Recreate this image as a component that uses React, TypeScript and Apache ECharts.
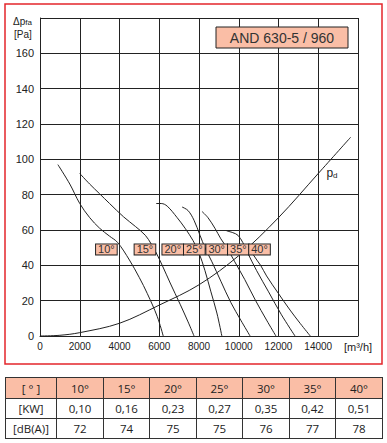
import React, { useEffect, useRef } from 'react';
import * as echarts from 'echarts';

// ---- data (x: airflow m³/h, y: Δpfa Pa) ----
const curve10: number[][] = [[900, 97], [1500, 86], [2000, 75], [2500, 67], [3000, 61], [3500, 56.5], [3900, 53], [4500, 43], [5000, 33], [5400, 24], [5900, 11], [6200, 0]];
const curve15: number[][] = [[2000, 92], [2500, 86], [3000, 80.5], [3500, 75], [4200, 67.5], [4800, 62], [5300, 57], [5600, 52], [5850, 47], [6150, 40], [6550, 30], [7050, 18], [7450, 8], [7750, 0]];
const curve20: number[][] = [[5840, 75], [6100, 75], [6400, 73.5], [6900, 67], [7300, 61], [7700, 54], [8000, 47], [8300, 37], [8600, 25], [8900, 13], [9150, 0]];
const curve25: number[][] = [[7150, 73], [7450, 71], [7750, 65.5], [8050, 57], [8300, 50], [8650, 42], [9100, 31], [9600, 19], [10100, 9], [10570, 0]];
const curve30: number[][] = [[8150, 70.5], [8450, 67], [8800, 61], [9100, 55], [9400, 50], [9800, 42], [10300, 32], [10850, 20], [11400, 9], [11870, 0]];
const curve35: number[][] = [[9390, 59.5], [9700, 58.5], [9960, 57], [10200, 53], [10450, 47], [10900, 37], [11500, 25], [12150, 12], [12830, 0]];
const curve40: number[][] = [[10600, 50], [10730, 46], [11100, 40], [11400, 34], [12000, 24], [12580, 14.7], [13100, 7], [13600, 0]];
const pdCurve: number[][] = [[0, 0], [1000, 0.4], [2000, 1.9], [4000, 7.2], [6000, 17.5], [8000, 29], [10000, 45.5], [12000, 67], [14000, 92], [15630, 112.5]];

const angleCurves = [curve10, curve15, curve20, curve25, curve30, curve35, curve40];
const angleLabels = ['10°', '15°', '20°', '25°', '30°', '35°', '40°'];
const labelX = [3340, 5280, 6680, 7765, 8890, 9980, 11045];
const labelY = 49;
const pdLabelPos = [14690, 92.5];

const tableHeader = ['[ ° ]', '10°', '15°', '20°', '25°', '30°', '35°', '40°'];
const kwRow = ['[KW]', '0,10', '0,16', '0,23', '0,27', '0,35', '0,42', '0,51'];
const dbRow = ['[dB(A)]', '72', '74', '75', '75', '76', '77', '78'];

const title = 'AND 630-5 / 960';
const SALMON = '#fabea6';
const INK = '#222';
const CLEAR = 'rgba(0,0,0,0)';

export default function App() {
  const ref = useRef<HTMLDivElement>(null);

  useEffect(() => {
    if (!ref.current) return;
    const chart = echarts.init(ref.current, undefined, { renderer: 'svg' });
    const lineSeries = angleCurves.map((d, i) => ({
      type: 'line',
      name: angleLabels[i],
      data: d,
      smooth: 0.35,
      showSymbol: false,
      symbol: 'none',
      lineStyle: { color: INK, width: 1 },
      z: 3,
    }));
    chart.setOption({
      animation: false,
      backgroundColor: '#fff',
      textStyle: { fontFamily: 'Liberation Sans, Arial, sans-serif' },
      grid: { left: 40, top: 18, width: 318, height: 318, containLabel: false },
      xAxis: {
        type: 'value',
        min: 0,
        max: 16000,
        interval: 2000,
        axisLine: { show: true, lineStyle: { color: INK, width: 1 } },
        axisTick: { show: false },
        splitLine: { show: true, lineStyle: { color: INK, width: 1 } },
        axisLabel: {
          margin: 5,
          color: INK,
          fontSize: 10,
          fontFamily: 'Liberation Sans Narrow, Liberation Sans, Arial',
          formatter: (v: number) => (v === 16000 ? '{u|[m³/h]}' : String(v)),
          rich: { u: { fontSize: 11, color: INK, fontFamily: 'Liberation Sans, Arial' } },
        },
      },
      yAxis: {
        type: 'value',
        min: 0,
        max: 180,
        interval: 20,
        axisLine: { show: true, lineStyle: { color: INK, width: 1 } },
        axisTick: { show: false },
        splitLine: { show: true, lineStyle: { color: INK, width: 1 } },
        axisLabel: {
          margin: 6,
          color: INK,
          fontSize: 11,
          formatter: (v: number) => (v === 180 ? '' : String(v)),
        },
      },
      series: [
        ...lineSeries,
        {
          type: 'line',
          name: 'pd',
          data: pdCurve,
          smooth: 0.35,
          showSymbol: false,
          symbol: 'none',
          lineStyle: { color: INK, width: 1 },
          z: 3,
        },
        {
          type: 'scatter',
          name: 'labels',
          z: 10,
          symbolSize: 0,
          itemStyle: { color: CLEAR },
          data: angleLabels.map((t, i) => [labelX[i], labelY, t]),
          label: {
            show: true,
            position: 'inside',
            formatter: (p: any) => p.value[2],
            backgroundColor: SALMON,
            borderColor: INK,
            borderWidth: 1,
            padding: [1, 2, 0, 2],
            fontSize: 11,
            lineHeight: 9,
            color: '#333',
            opacity: 1,
          },
          emphasis: { disabled: true },
        },
        {
          type: 'scatter',
          name: 'pdlabel',
          z: 10,
          symbolSize: 0,
          itemStyle: { color: CLEAR },
          data: [[pdLabelPos[0], pdLabelPos[1]]],
          label: {
            show: true,
            position: 'inside',
            opacity: 1,
            formatter: '{p|p}{d|d}',
            rich: {
              p: { fontSize: 12, color: INK },
              d: { fontSize: 8, color: INK, padding: [5, 0, 0, 0] },
            },
          },
          emphasis: { disabled: true },
        },
      ],
      graphic: [
        {
          type: 'rect',
          shape: { x: 5, y: 4, width: 377, height: 360 },
          style: { fill: 'none', stroke: '#e3262b', lineWidth: 1.5 },
          z: 0,
        },
        {
          type: 'rect',
          shape: { x: 216, y: 27, width: 132, height: 21 },
          style: { fill: SALMON, stroke: INK, lineWidth: 1 },
          z: 20,
        },
        {
          type: 'text',
          x: 282,
          y: 38,
          z: 21,
          style: {
            text: title,
            fill: '#333',
            fontSize: 14,
            fontFamily: 'Liberation Sans, Arial',
            align: 'center',
            verticalAlign: 'middle',
          },
        },
        {
          type: 'text',
          x: 13,
          y: 21,
          style: {
            text: '{a|Δp}{s|fa}',
            rich: {
              a: { fontSize: 10, fill: INK, fontFamily: 'Liberation Sans, Arial' },
              s: { fontSize: 8, fill: INK, padding: [3, 0, 0, 0], fontFamily: 'Liberation Sans, Arial' },
            },
            verticalAlign: 'middle',
          },
        },
        {
          type: 'text',
          x: 14,
          y: 34,
          style: {
            text: '[Pa]',
            fontSize: 10,
            fill: INK,
            fontFamily: 'Liberation Sans, Arial',
            verticalAlign: 'middle',
          },
        },
      ],
    });
    return () => chart.dispose();
  }, []);

  const colW = [51, 47, 46, 47, 46, 47, 46, 47];
  const rows = [tableHeader, kwRow, dbRow];
  const rowH = [21, 20, 20];

  return (
    <div style={{ position: 'fixed', left: 0, top: 0, width: 387, height: 443, background: '#fff' }}>
      <div ref={ref} style={{ position: 'absolute', left: 0, top: 0, width: 387, height: 370 }} />
      <table
        style={{
          position: 'absolute',
          left: 5,
          top: 377,
          width: 377,
          borderCollapse: 'collapse',
          tableLayout: 'fixed',
          fontFamily: 'Open Sans, Noto Sans, sans-serif',
          fontSize: 11.5,
          color: INK,
          border: '1.5px solid #333',
        }}
      >
        <colgroup>
          {colW.map((w, i) => (
            <col key={i} style={{ width: w }} />
          ))}
        </colgroup>
        <tbody>
          {rows.map((r, ri) => (
            <tr key={ri} style={{ height: rowH[ri], background: ri === 0 ? SALMON : '#fff' }}>
              {r.map((c, ci) => (
                <td
                  key={ci}
                  style={{
                    border: '1px solid #333',
                    textAlign: 'center',
                    padding: 0,
                    height: rowH[ri] - 1,
                    lineHeight: `${rowH[ri] - 2}px`,
                  }}
                >
                  {c}
                </td>
              ))}
            </tr>
          ))}
        </tbody>
      </table>
    </div>
  );
}
